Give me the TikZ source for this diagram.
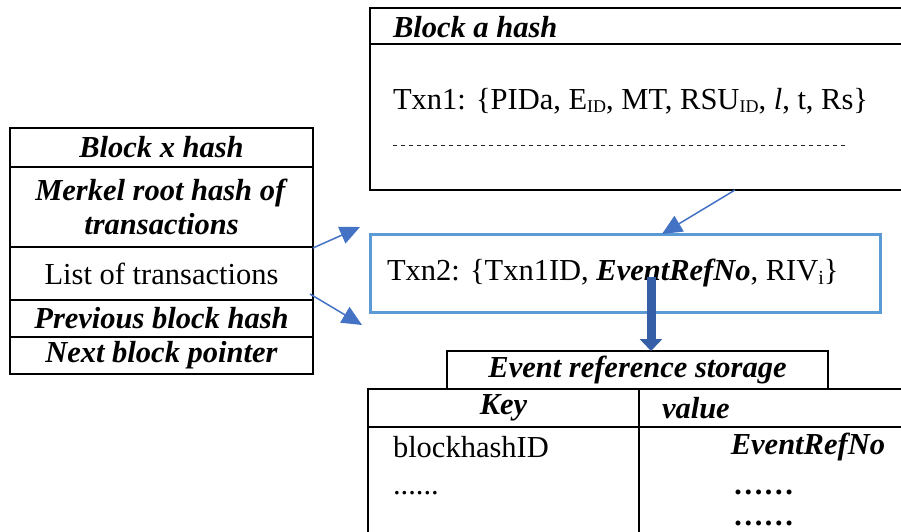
\documentclass[tikz,border=0pt]{standalone}
\usepackage{fontspec}
\setmainfont{Liberation Serif}
\usetikzlibrary{arrows.meta}
\definecolor{lblue}{HTML}{5B9BD5}
\definecolor{mblue}{HTML}{4472C4}
\definecolor{dblue}{HTML}{3560A8}
\newcommand{\bi}[1]{\textbf{\textit{#1}}}
\tikzset{
  cell/.style={draw=black, line width=1.3pt, inner sep=0pt, outer sep=0pt, anchor=north west, align=center},
  txt/.style={inner sep=0pt, outer sep=0pt},
  thinarrow/.style={draw=mblue, line width=1.5pt, -{Triangle[length=20pt,width=18pt]}, fill=mblue},
  thickarrow/.style={draw=dblue, line width=9pt, -{Triangle[length=12pt,width=22pt]}}
}
\begin{document}
\begin{tikzpicture}[x=1pt, y=-1pt, font=\fontsize{30.5}{34}\selectfont]
\useasboundingbox (0,0) rectangle (901,531);

% block x: a column of fields
\node[cell, minimum width=303, minimum height=39] (bx) at (10,128) {\bi{Block x hash}};
\node[cell, minimum width=303, minimum height=80] (mk) at (10,167) {\bi{Merkel root hash of}\\\bi{transactions}};
\node[cell, minimum width=303, minimum height=53] (lt) at (10,247) {List of transactions};
\node[cell, minimum width=303, minimum height=37] (pb) at (10,300) {\bi{Previous block hash}};
\node[cell, minimum width=303, minimum height=37] (nb) at (10,337) {\bi{Next block pointer}};

% block a with its first transaction
\node[cell, minimum width=540, minimum height=36] (ah) at (370,8) {};
\node[txt, anchor=west] (aht) at (393,27) {\bi{Block a hash}};
\node[cell, minimum width=540, minimum height=146] (ab) at (370,44) {};
\node[txt, anchor=west] (t1) at (393,101) {Txn1: \{PIDa, E\raisebox{-0.25ex}{\fontsize{18}{20}\selectfont ID}, MT, RSU\raisebox{-0.25ex}{\fontsize{18}{20}\selectfont ID}, \textit{l}, t, Rs\}};
\coordinate (d1) at (393,145);
\coordinate (d2) at (848,145);
\draw[line width=1pt, dash pattern=on 4pt off 4pt, black!85] (d1) -- (d2);

% second transaction
\node[cell, draw=lblue, line width=3pt, minimum width=510, minimum height=78] (tx2) at (370,234) {};
\node[txt, anchor=west] (t2) at (387,273) {Txn2: \{Txn1ID, \bi{EventRefNo}, RIV\raisebox{-0.25ex}{\fontsize{20}{22}\selectfont i}\}};

% event reference storage
\node[cell, minimum width=381, minimum height=38] (ev) at (447,351) {\bi{Event reference storage}};
\node[cell, minimum width=271, minimum height=38] (kh) at (368,389) {\bi{Key}};
\node[cell, minimum width=270, minimum height=38] (vh) at (639,389) {};
\node[txt, anchor=west] (vht) at (662,408) {\bi{value}};
\node[cell, minimum width=271, minimum height=120] (kb) at (368,427) {};
\node[cell, minimum width=270, minimum height=120] (vb) at (639,427) {};
\node[txt, anchor=west] (k1) at (393,447) {blockhashID};
\node[txt, anchor=base west] (k2) at (393,494) {......};
\node[txt, anchor=east] (v1) at (885,447) {\bi{EventRefNo}};
\node[txt, anchor=base west] (v2) at (733,494) {\textbf{……}};
\node[txt, anchor=base west] (v3) at (733,525) {\textbf{……}};

% connectors
\draw[thinarrow] ([shift={(0,1)}]lt.north east) -- ([shift={(-10,-7)}]tx2.north west);
\draw[thinarrow] ([shift={(-3,-6)}]lt.south east) -- ([shift={(-8,13)}]tx2.south west);
\draw[thinarrow] ([xshift=-175]ab.south east) -- ([xshift=37]tx2.north);
\draw[thickarrow] ([shift={(26,4)}]tx2.center) -- ([xshift=13.5]ev.north);
\end{tikzpicture}
\end{document}
